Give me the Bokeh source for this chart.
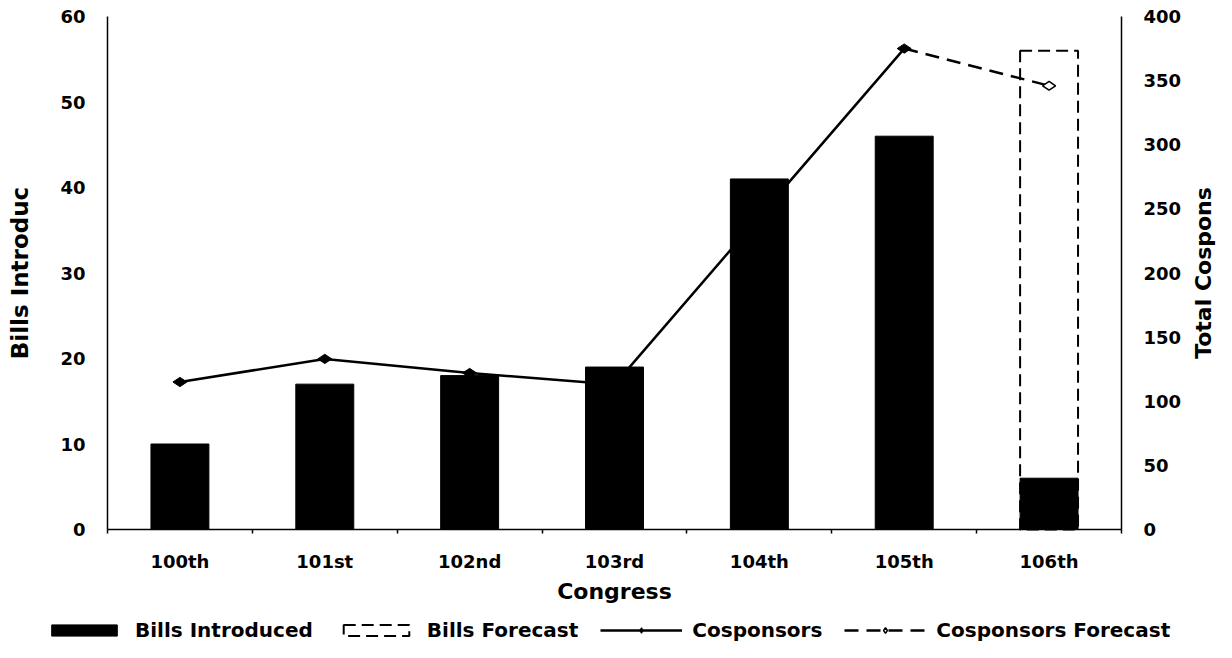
import math
from bokeh.plotting import figure
from bokeh.models import (Range1d, LinearAxis, FixedTicker, Legend, LegendItem, Label)
from bokeh.embed import file_html
from bokeh.resources import INLINE

# ---- data ----
congress = ["100th", "101st", "102nd", "103rd", "104th", "105th", "106th"]
bills_introduced = [10, 17, 18, 19, 41, 46, 6]
cosponsor_congress = ["100th", "101st", "102nd", "103rd", "104th", "105th"]
cosponsors = [115, 133, 122, 113, 244, 375]
forecast_line_congress = ["105th", "106th"]
cosponsors_forecast = [375, 346]
forecast_congress = ["106th"]
bills_forecast = [56]
cosponsors_forecast_point = [346]
left_ticks = [0, 10, 20, 30, 40, 50, 60]
right_ticks = [0, 50, 100, 150, 200, 250, 300, 350, 400]

FONT = "DejaVu Sans"

# ---- layout (canvas pixels, from top-left of the figure) ----
W, H = 1216, 642
AX_LEFT, AX_RIGHT = 107, 1121     # where the two value axes stand
AX_TOP, AX_ZERO = 16, 529         # where the top tick and the zero line are

n = len(congress)
x_unit = (AX_RIGHT - AX_LEFT) / n
x_lo, x_hi = -0.5, n - 0.5
l_max, r_max = left_ticks[-1], right_ticks[-1]
l_unit = (AX_ZERO - AX_TOP) / l_max
r_unit = (AX_ZERO - AX_TOP) / r_max

def pos(names):
    # category slot index on the x axis
    return [congress.index(c) for c in names]

p = figure(width=W, height=H, title=None,
           x_range=Range1d(x_lo - AX_LEFT / x_unit, x_hi + (W - AX_RIGHT) / x_unit),
           y_range=Range1d(-(H - AX_ZERO) / l_unit, l_max + AX_TOP / l_unit),
           min_border=0, min_border_left=0, min_border_right=0, min_border_top=0, min_border_bottom=0,
           x_axis_type=None, y_axis_type=None, output_backend="svg", toolbar_location=None,
           outline_line_color=None, background_fill_color="white", border_fill_color="white")
p.extra_y_ranges = {"cosp": Range1d(-(H - AX_ZERO) / r_unit, r_max + AX_TOP / r_unit)}

# cosponsors line (drawn beneath the bars)
line = p.line(pos(cosponsor_congress), cosponsors, y_range_name="cosp", line_color="black", line_width=2.5)
pts = p.scatter(pos(cosponsor_congress), cosponsors, y_range_name="cosp", marker="diamond", size=14,
                angle=math.pi / 2, fill_color="black", line_color="black")
bars = p.vbar(x=pos(congress), top=bills_introduced, width=0.4, fill_color="black", line_color="black")
fbar = p.vbar(x=pos(forecast_congress), top=bills_forecast, width=0.4, fill_color=None,
              line_color="black", line_width=2, line_dash="12 6")
fline = p.line(pos(forecast_line_congress), cosponsors_forecast, y_range_name="cosp",
               line_color="black", line_width=2.5, line_dash="14 8")
fpts = p.scatter(pos(forecast_congress), cosponsors_forecast_point, y_range_name="cosp", marker="diamond",
                 size=13, angle=math.pi / 2, fill_color="white", line_color="black", line_width=1.5)

def style_axis(ax):
    ax.axis_line_color = "black"
    ax.axis_line_width = 1.5
    ax.major_tick_out = 0
    ax.major_tick_in = 0
    ax.minor_tick_in = 0
    ax.minor_tick_out = 0
    ax.major_label_text_font = FONT
    ax.major_label_text_font_style = "bold"
    ax.major_label_text_font_size = "18px"
    ax.major_label_text_color = "black"
    ax.axis_label_text_font = FONT
    ax.axis_label_text_font_style = "bold"
    ax.axis_label_text_font_size = "23px"
    ax.axis_label_text_color = "black"

laxis = LinearAxis(ticker=FixedTicker(ticks=left_ticks), axis_label="Bills Introduc",
                   fixed_location=x_lo, bounds=(0, l_max))
style_axis(laxis)
laxis.major_label_standoff = 22
laxis.axis_label_standoff = 24
p.add_layout(laxis, "left")

raxis = LinearAxis(y_range_name="cosp", ticker=FixedTicker(ticks=right_ticks),
                   fixed_location=x_hi, bounds=(0, r_max))
style_axis(raxis)
raxis.major_label_standoff = 22
p.add_layout(raxis, "right")

p.add_layout(Label(x=x_hi + 82 / x_unit, y=r_max / 2, y_range_name="cosp", text="Total Cospons",
                   angle=math.pi / 2, angle_units="rad", text_align="center", text_baseline="middle",
                   text_font=FONT, text_font_style="bold", text_font_size="22px", text_color="black"))

xaxis = LinearAxis(ticker=FixedTicker(ticks=list(range(n)), minor_ticks=[i + 0.5 for i in range(-1, n)]),
                   major_label_overrides={i: c for i, c in enumerate(congress)},
                   axis_label="Congress", fixed_location=0, bounds=(x_lo, x_hi))
style_axis(xaxis)
xaxis.minor_tick_out = 4
xaxis.minor_tick_line_color = "black"
xaxis.minor_tick_line_width = 1.5
xaxis.major_label_standoff = 17
xaxis.axis_label_standoff = 4
xaxis.axis_label_text_font_size = "22px"
p.add_layout(xaxis, "below")

legend = Legend(items=[LegendItem(label="Bills Introduced", renderers=[bars]),
                       LegendItem(label="Bills Forecast", renderers=[fbar]),
                       LegendItem(label="Cosponsors", renderers=[line, pts]),
                       LegendItem(label="Cosponsors Forecast", renderers=[fline, fpts])],
                orientation="horizontal", location=(43, 0),
                glyph_width=82, glyph_height=14, label_standoff=10, spacing=22,
                padding=0, margin=0, border_line_color=None, background_fill_alpha=0,
                label_text_font=FONT, label_text_font_style="bold", label_text_font_size="20px",
                label_text_color="black")
p.add_layout(legend, "center")

open("out.html", "w").write(file_html(p, INLINE))
